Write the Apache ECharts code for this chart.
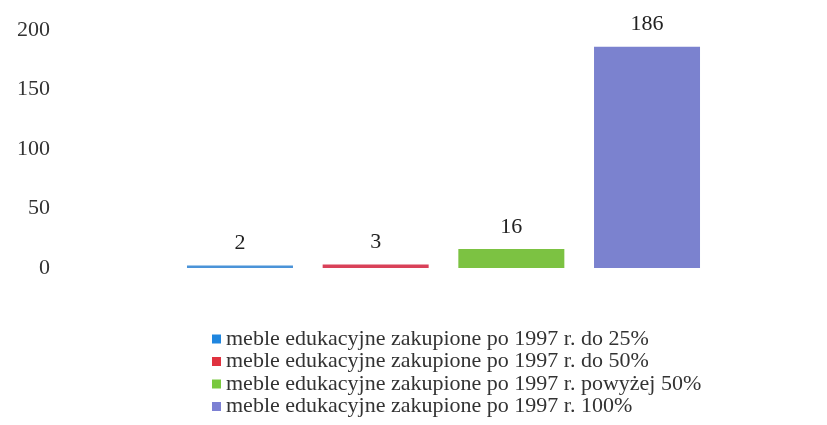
<!DOCTYPE html>
<html>
<head>
<meta charset="utf-8">
<script src="https://cdn.jsdelivr.net/npm/echarts@6/dist/echarts.min.js"></script>
<style>
  html, body { margin: 0; padding: 0; background: #fff; }
  #chart { width: 827px; height: 425px; }
</style>
</head>
<body>
<div id="chart"></div>
<script>
// dane z wykresu
var seriesNames = [
  'meble edukacyjne zakupione po 1997 r. do 25%',
  'meble edukacyjne zakupione po 1997 r. do 50%',
  'meble edukacyjne zakupione po 1997 r. powyżej 50%',
  'meble edukacyjne zakupione po 1997 r. 100%'
];
var values = [2, 3, 16, 186];
var barColors = ['#4b93d8', '#d94159', '#7cc242', '#7b82cf'];
var legendColors = ['#1f86df', '#e0323f', '#79c93e', '#7c80d3'];
var yTicks = [0, 50, 100, 150, 200];

var font = '"Liberation Serif", "DejaVu Serif", serif';

var series = [];
for (var i = 0; i < values.length; i++) {
  series.push({
    name: seriesNames[i],
    type: 'bar',
    data: [values[i]],
    barWidth: 106,
    barGap: '28%',
    itemStyle: { color: barColors[i] },
    label: {
      show: true,
      position: 'top',
      distance: 11,
      fontFamily: font,
      fontSize: 22,
      color: '#222'
    }
  });
}

var myChart = echarts.init(document.getElementById('chart'));
myChart.setOption({
  animation: false,
  textStyle: { fontFamily: font },
  grid: { left: 60, right: 0, top: 30, bottom: 157 },
  legend: {
    orient: 'vertical',
    left: 212,
    top: 328,
    padding: 0,
    icon: 'rect',
    itemWidth: 9,
    itemHeight: 9,
    itemGap: 0.5,
    data: seriesNames.map(function (n, i) {
      return { name: n, itemStyle: { color: legendColors[i] } };
    }),
    textStyle: { fontFamily: font, fontSize: 22, color: '#333', lineHeight: 22 }
  },
  xAxis: {
    type: 'category',
    data: [''],
    axisLine: { show: false },
    axisTick: { show: false },
    axisLabel: { show: false }
  },
  yAxis: {
    type: 'value',
    min: yTicks[0],
    max: yTicks[yTicks.length - 1],
    interval: 50,
    splitLine: { show: false },
    axisLine: { show: false },
    axisTick: { show: false },
    axisLabel: { margin: 10, fontFamily: font, fontSize: 22, color: '#333' }
  },
  series: series
});
</script>
</body>
</html>
